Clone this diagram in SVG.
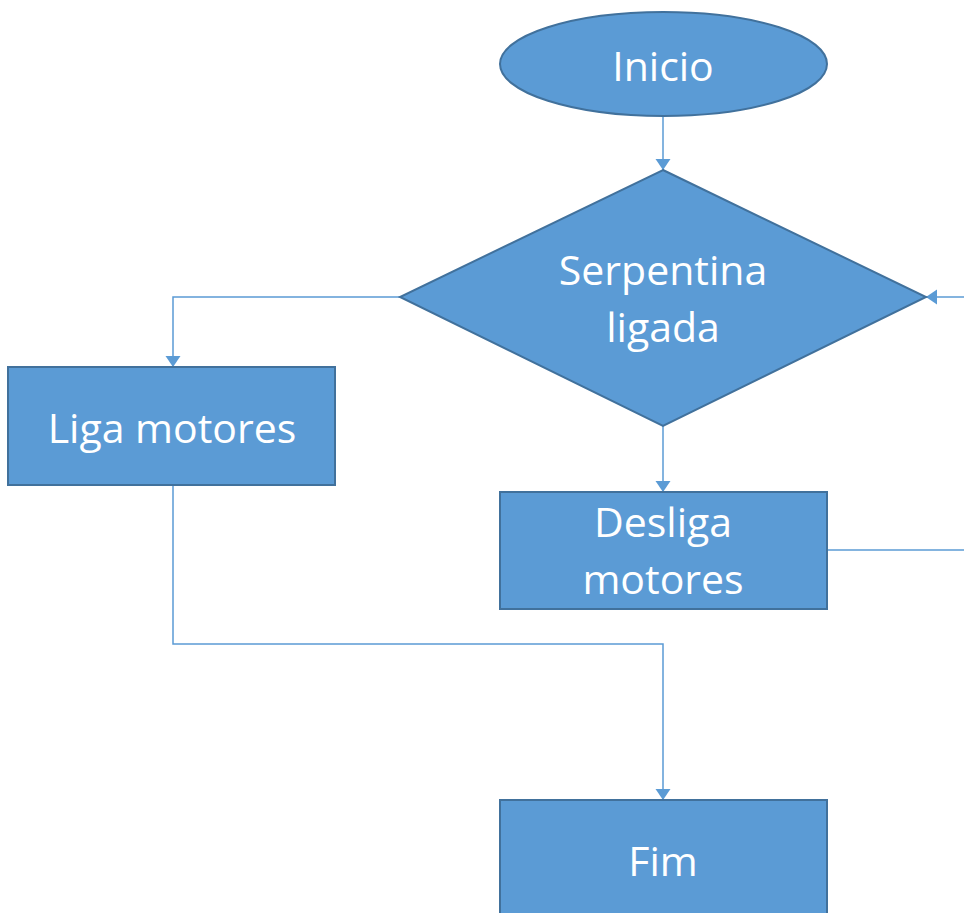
<svg xmlns="http://www.w3.org/2000/svg" width="964" height="913" viewBox="0 0 964 913">
<style>
.shape{fill:#5B9BD5;stroke:#41719C;stroke-width:2}
.lbl{fill:#FFFFFF;font-family:"Open Sans","Noto Sans",sans-serif;font-size:41px;text-anchor:middle}
.conn{fill:none;stroke:#5B9BD5;stroke-width:1.5}
</style>
<defs>
<marker id="arr" viewBox="0 0 16 16" refX="11" refY="8" markerWidth="16" markerHeight="16" markerUnits="userSpaceOnUse" orient="auto">
<path d="M0,0.5 L11,8 L0,15.5 Z" fill="#5B9BD5"/>
</marker>
</defs>
<rect width="964" height="913" fill="#FFFFFF"/>
<g id="connectors">
<path class="conn" d="M663,116 V170" marker-end="url(#arr)"/>
<path class="conn" d="M400,297 H173 V367" marker-end="url(#arr)"/>
<path class="conn" d="M663,426 V492" marker-end="url(#arr)"/>
<path class="conn" d="M827,550 H964"/>
<path class="conn" d="M964,297 H926" marker-end="url(#arr)"/>
<path class="conn" d="M173,485 V644 H663 V800" marker-end="url(#arr)"/>
</g>
<g id="inicio">
<ellipse class="shape" cx="663.5" cy="64" rx="163.5" ry="52"/>
<text class="lbl" x="663" y="81">Inicio</text>
</g>
<g id="serpentina">
<polygon class="shape" points="663,170 926,297 663,426 400,297"/>
<text class="lbl" x="663" y="285">Serpentina</text>
<text class="lbl" x="663" y="342">ligada</text>
</g>
<g id="liga">
<rect class="shape" x="8" y="367" width="327" height="118"/>
<text class="lbl" x="172" y="443">Liga motores</text>
</g>
<g id="desliga">
<rect class="shape" x="500" y="492" width="327" height="117"/>
<text class="lbl" x="663" y="537">Desliga</text>
<text class="lbl" x="663" y="594">motores</text>
</g>
<g id="fim">
<rect class="shape" x="500" y="800" width="327" height="125"/>
<text class="lbl" x="663" y="876">Fim</text>
</g>
</svg>
